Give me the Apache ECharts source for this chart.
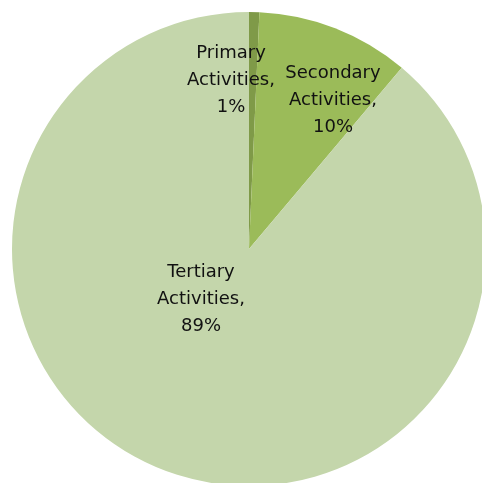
<!DOCTYPE html>
<html>
<head>
<meta charset="utf-8">
<script src="https://cdn.jsdelivr.net/npm/echarts@6/dist/echarts.min.js"></script>
<style>
  html, body { margin: 0; padding: 0; background: #fff; }
  #chart { width: 482px; height: 483px; }
</style>
</head>
<body>
<div id="chart"></div>
<script>
const categories = ['Primary Activities', 'Secondary Activities', 'Tertiary Activities']
const shares = [0.7, 10.45, 88.85]
const sliceColors = ['#7f9a48', '#9bbb59', '#c4d6ab']
// where each label sits (Excel put them by hand)
const labelSpots = [[231, 80], [333, 100], [201, 299]]

const myChart = echarts.init(document.getElementById('chart'))

myChart.setOption({
  animation: false,
  series: [
    {
      type: 'pie',
      center: [249, 249],
      radius: 237,
      startAngle: 90,
      clockwise: true,
      silent: true,
      data: categories.map((name, i) => ({
        name: name,
        value: shares[i],
        itemStyle: { color: sliceColors[i] }
      })),
      itemStyle: { borderWidth: 0 },
      label: {
        show: true,
        position: 'inside',
        color: '#111',
        fontFamily: 'DejaVu Sans',
        fontSize: 18,
        lineHeight: 27,
        align: 'center',
        formatter: p => {
          const parts = p.name.split(' ')
          return parts[0] + '\n' + parts[1] + ',\n' + Math.round(p.value) + '%'
        }
      },
      labelLine: { show: false },
      labelLayout: p => ({
        x: labelSpots[p.dataIndex][0],
        y: labelSpots[p.dataIndex][1],
        align: 'center',
        verticalAlign: 'middle'
      })
    }
  ]
})
</script>
</body>
</html>
